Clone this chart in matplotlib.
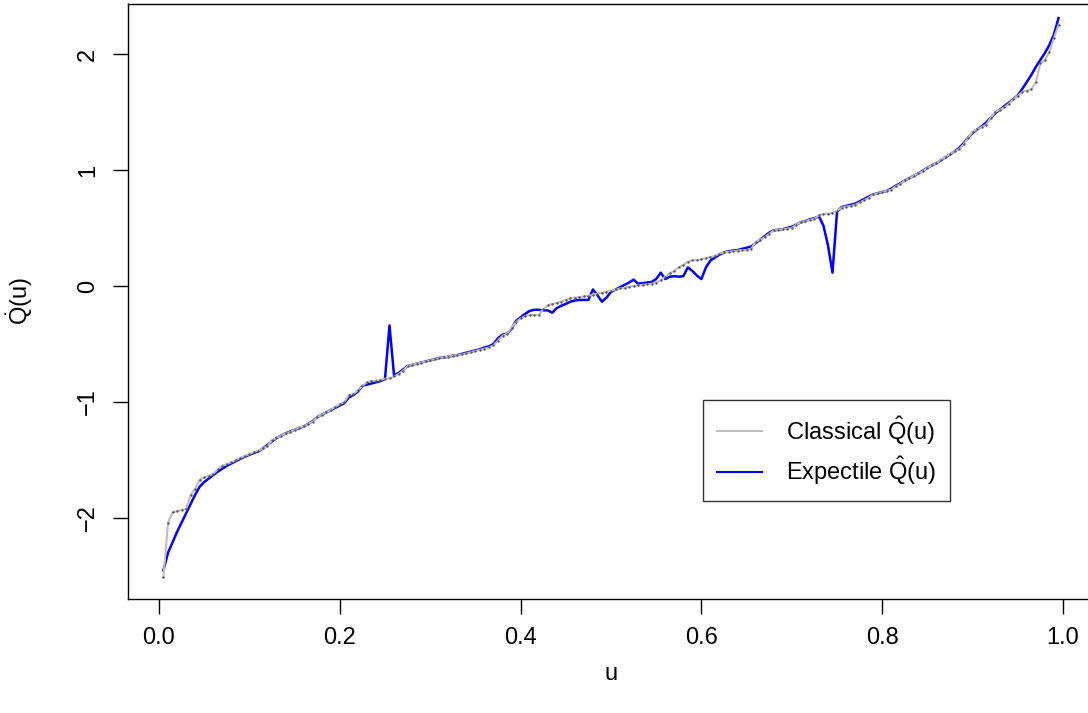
import numpy as np
import matplotlib
matplotlib.use("Agg")
import matplotlib.pyplot as plt
from matplotlib.lines import Line2D

plt.rcParams['font.family'] = ['Liberation Sans', 'DejaVu Sans']
plt.rcParams['mathtext.fontset'] = 'custom'
plt.rcParams['mathtext.rm'] = 'Liberation Sans'
plt.rcParams['mathtext.it'] = 'Liberation Sans'
plt.rcParams['mathtext.default'] = 'rm'

# probability grid
u = np.round(np.arange(0.005, 0.9951, 0.005), 3)

# classical (empirical) quantile estimate
classical = [
    -2.51, -2.04, -1.95, -1.94, -1.93, -1.92, -1.80, -1.75, -1.67, -1.65,
    -1.635, -1.62, -1.58, -1.55, -1.535, -1.52, -1.50, -1.48, -1.465, -1.45,
    -1.43, -1.42, -1.40, -1.38, -1.33, -1.31, -1.29, -1.27, -1.26, -1.24,
    -1.22, -1.21, -1.19, -1.17, -1.13, -1.11, -1.09, -1.07, -1.04, -1.02,
    -1.00, -0.94, -0.93, -0.90, -0.86, -0.83, -0.82, -0.815, -0.81, -0.80,
    -0.795, -0.78, -0.76, -0.73, -0.69, -0.68, -0.67, -0.66, -0.65, -0.64,
    -0.63, -0.62, -0.615, -0.61, -0.60, -0.595, -0.59, -0.58, -0.57, -0.56,
    -0.55, -0.54, -0.53, -0.51, -0.47, -0.43, -0.41, -0.36, -0.31, -0.28,
    -0.26, -0.25, -0.25, -0.25, -0.20, -0.165, -0.155, -0.145, -0.135, -0.12,
    -0.106, -0.10, -0.095, -0.09, -0.085, -0.075, -0.065, -0.06, -0.05, -0.04,
    -0.03, -0.02, -0.015, -0.005, 0.00, 0.005, 0.01, 0.015, 0.02, 0.03,
    0.05, 0.08, 0.11, 0.13, 0.16, 0.18, 0.21, 0.22, 0.225, 0.23,
    0.24, 0.25, 0.26, 0.28, 0.29, 0.295, 0.30, 0.305, 0.31, 0.31,
    0.32, 0.38, 0.40, 0.42, 0.45, 0.48, 0.485, 0.49, 0.495, 0.50,
    0.53, 0.55, 0.56, 0.57, 0.58, 0.61, 0.62, 0.625, 0.63, 0.65,
    0.675, 0.685, 0.69, 0.70, 0.72, 0.74, 0.76, 0.79, 0.80, 0.81,
    0.82, 0.83, 0.86, 0.88, 0.91, 0.93, 0.95, 0.97, 0.99, 1.02,
    1.04, 1.06, 1.09, 1.11, 1.14, 1.16, 1.18, 1.22, 1.28, 1.33,
    1.35, 1.37, 1.39, 1.45, 1.50, 1.52, 1.54, 1.57, 1.61, 1.64,
    1.675, 1.685, 1.695, 1.76, 1.92, 1.945, 2.02, 2.14, 2.25,
]

# expectile-based quantile estimate
expectile = [
    -2.45, -2.30, -2.21, -2.12, -2.04, -1.96, -1.88, -1.80, -1.73, -1.69,
    -1.66, -1.63, -1.60, -1.575, -1.55, -1.53, -1.51, -1.49, -1.47, -1.455,
    -1.44, -1.425, -1.40, -1.37, -1.34, -1.31, -1.29, -1.27, -1.255, -1.24,
    -1.225, -1.21, -1.19, -1.165, -1.13, -1.11, -1.09, -1.07, -1.05, -1.03,
    -1.01, -0.96, -0.94, -0.91, -0.86, -0.85, -0.84, -0.83, -0.82, -0.80,
    -0.34, -0.77, -0.75, -0.72, -0.69, -0.68, -0.67, -0.66, -0.65, -0.64,
    -0.63, -0.62, -0.615, -0.61, -0.60, -0.595, -0.585, -0.575, -0.565, -0.555,
    -0.545, -0.53, -0.52, -0.50, -0.45, -0.42, -0.41, -0.37, -0.30, -0.27,
    -0.24, -0.215, -0.205, -0.205, -0.21, -0.21, -0.23, -0.19, -0.17, -0.155,
    -0.135, -0.125, -0.12, -0.12, -0.12, -0.03, -0.08, -0.135, -0.10, -0.05,
    -0.03, -0.01, 0.01, 0.03, 0.055, 0.02, 0.025, 0.03, 0.035, 0.06,
    0.115, 0.06, 0.08, 0.085, 0.08, 0.085, 0.16, 0.13, 0.09, 0.06,
    0.16, 0.22, 0.245, 0.27, 0.29, 0.30, 0.305, 0.31, 0.32, 0.33,
    0.34, 0.37, 0.40, 0.43, 0.46, 0.48, 0.485, 0.49, 0.50, 0.51,
    0.53, 0.55, 0.56, 0.575, 0.585, 0.60, 0.52, 0.35, 0.115, 0.64,
    0.68, 0.69, 0.70, 0.71, 0.73, 0.75, 0.77, 0.79, 0.80, 0.81,
    0.82, 0.84, 0.865, 0.885, 0.91, 0.93, 0.95, 0.97, 0.995, 1.02,
    1.04, 1.06, 1.085, 1.11, 1.135, 1.16, 1.19, 1.23, 1.28, 1.32,
    1.35, 1.375, 1.41, 1.45, 1.49, 1.52, 1.55, 1.58, 1.61, 1.645,
    1.70, 1.76, 1.82, 1.89, 1.95, 2.01, 2.08, 2.17, 2.31,
]

xticks = [0.0, 0.2, 0.4, 0.6, 0.8, 1.0]
xtick_labels = ["0.0", "0.2", "0.4", "0.6", "0.8", "1.0"]
yticks = [-2, -1, 0, 1, 2]
ytick_labels = ["\u22122", "\u22121", "0", "1", "2"]

FS = 17

W, H = 1088, 713
fig = plt.figure(figsize=(W / 100, H / 100), dpi=100)
ax = fig.add_axes([127.5 / W, 114 / H, 967 / W, 595 / H])

ax.plot(u, expectile, color='#0000FF', lw=1.8, zorder=2)
ax.plot(u, classical, color='#BEBEBE', lw=1.5, zorder=3)
ax.plot(u, classical, ls='none', marker='o', ms=1.3, mfc='#555555', mec='#555555', mew=0.3, zorder=4)

ax.set_xlim(-0.0348, 1.0348)
ax.set_ylim(-2.698, 2.431)

ax.set_xticks(xticks)
ax.set_xticklabels(xtick_labels)
ax.set_yticks(yticks)
ax.set_yticklabels(ytick_labels, rotation=90, va='center')
ax.tick_params(axis='both', direction='out', length=10.5, width=1, labelsize=FS, color='black')
ax.tick_params(axis='x', pad=10)
ax.tick_params(axis='y', pad=10)
for s in ax.spines.values():
    s.set_linewidth(1.0)
    s.set_color('black')

ax.set_xlabel('u', fontsize=FS, labelpad=10)
ax.set_ylabel(r'$\dot{Q}(u)$', fontsize=FS, labelpad=30)

handles = [Line2D([], [], color='#BEBEBE', lw=1.5), Line2D([], [], color='#0000FF', lw=1.5)]
labels = [r'Classical $\hat{Q}(u)$', r'Expectile $\hat{Q}(u)$']
leg = ax.legend(handles, labels, loc='upper left', bbox_to_anchor=(0.595, 0.3345),
                fontsize=FS, frameon=True, fancybox=False, edgecolor='black',
                handlelength=1.9, handletextpad=1.0, labelspacing=0.35,
                borderpad=0.6, borderaxespad=0)
leg.get_frame().set_linewidth(1.0)

fig.savefig('out.png', dpi=100)
